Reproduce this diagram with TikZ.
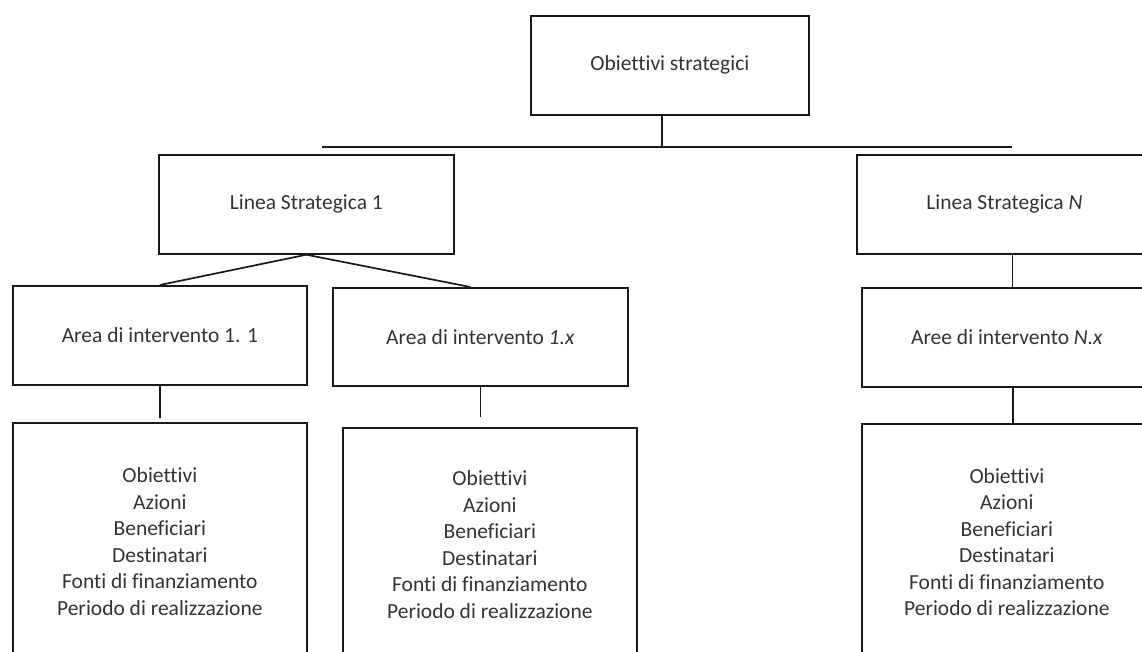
\documentclass[tikz,border=0pt]{standalone}
\usepackage{fontspec}
\setmainfont{Carlito}[Ligatures=NoCommon]
\usepackage{tikz}
\usetikzlibrary{positioning}

\begin{document}
\begin{tikzpicture}[x=1pt,y=-1pt,
    box/.style={draw=black!90, line width=1.7pt, anchor=north west, align=center,
        text=black!80, font=\fontsize{21.5}{26.5}\selectfont, inner sep=0pt},
    link/.style={draw=black!90, line width=1.7pt}]
    % Cornice
    \useasboundingbox (0,0) rectangle (1142,651);
    \clip (0,0) rectangle (1142,651);

    % Obiettivi
    \node[box, minimum width=278, minimum height=99] (obj) at (530,15) {Obiettivi strategici};

    % Linee strategiche
    \node[box, minimum width=295, minimum height=99] (ls1) at (158,154) {Linea Strategica 1};
    \node[box, minimum width=295, minimum height=99] (lsN) at (856,154) {Linea Strategica \textit{N}};

    % Aree di intervento
    \node[box, minimum width=294, minimum height=99] (a11) at (12,285) {Area di intervento 1. 1};
    \node[box, minimum width=295, minimum height=98] (a1x) at (332,287) {Area di intervento \textit{1.x}};
    \node[box, minimum width=290, minimum height=99] (aNx) at (861,287) {Aree di intervento \textit{N.x}};

    % Schede
    \def\scheda{Obiettivi\\Azioni\\Beneficiari\\Destinatari\\Fonti di finanziamento\\Periodo di realizzazione}
    \node[box, minimum width=294, minimum height=238] (b11) at (12,422) {\scheda};
    \node[box, minimum width=294, minimum height=234] (b1x) at (342,427) {\scheda};
    \node[box, minimum width=290, minimum height=237] (bNx) at (861,423) {\scheda};

    % Collegamenti
    \coordinate (hl) at (322,147);
    \coordinate (hr) at (1012,147);
    \draw[link] (hl) -- (hr);
    \draw[link] ([xshift=-8pt]obj.south) -- ([xshift=-8pt]obj.south |- hl);
    \draw[link] (ls1.south) -- (a11.north);
    \draw[link] (ls1.south) -- ([xshift=-10pt]a1x.north);
    \draw[link] ([xshift=8pt]lsN.south) -- ([xshift=8pt]lsN.south |- aNx.north);
    \draw[link] (a11.south) -- ([yshift=4pt]b11.north);
    \draw[link] (a1x.south) -- ([yshift=10pt]a1x.south |- b1x.north);
    \draw[link] ([xshift=6pt]aNx.south) -- ([xshift=6pt]aNx.south |- bNx.north);
\end{tikzpicture}
\end{document}
